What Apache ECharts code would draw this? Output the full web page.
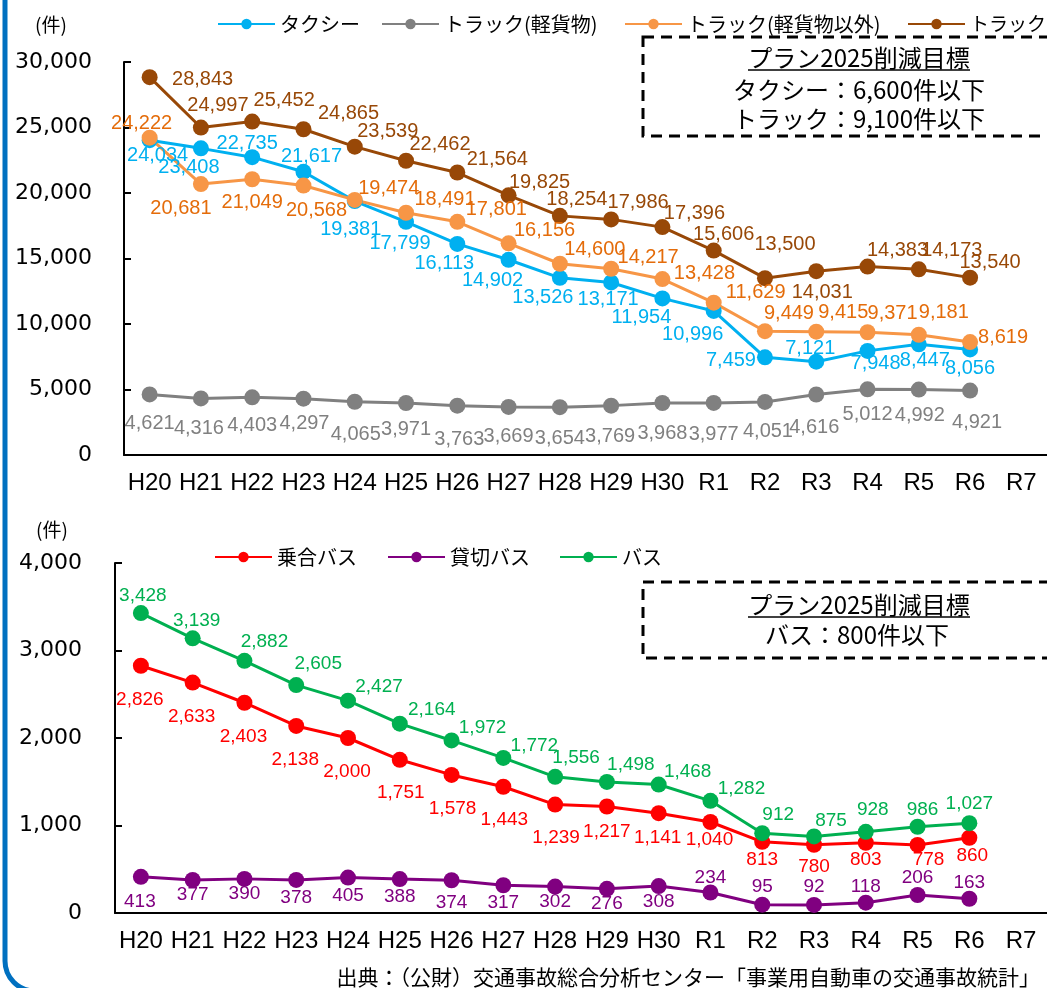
<!DOCTYPE html>
<html>
<head>
<meta charset="utf-8">
<script src="https://cdn.jsdelivr.net/npm/echarts@6/dist/echarts.min.js"></script>
<style>
html,body{margin:0;padding:0;background:#fff;}
#c{width:1047px;height:988px;}
</style>
</head>
<body>
<div id="c"></div>
<script>
// ---- data ----
const categories = ['H20','H21','H22','H23','H24','H25','H26','H27','H28','H29','H30','R1','R2','R3','R4','R5','R6','R7'];
const taxi       = [24034,23408,22735,21617,19381,17799,16113,14902,13526,13171,11954,10996,7459,7121,7948,8447,8056];
const truckLight = [4621,4316,4403,4297,4065,3971,3763,3669,3654,3769,3968,3977,4051,4616,5012,4992,4921];
const truckOther = [24222,20681,21049,20568,19474,18491,17801,16156,14600,14217,13428,11629,9449,9415,9371,9181,8619];
const truckAll   = [28843,24997,25452,24865,23539,22462,21564,19825,18254,17986,17396,15606,13500,14031,14383,14173,13540];
const busRoute   = [2826,2633,2403,2138,2000,1751,1578,1443,1239,1217,1141,1040,813,780,803,778,860];
const busCharter = [413,377,390,378,405,388,374,317,302,276,308,234,95,92,118,206,163];
const busAll     = [3428,3139,2882,2605,2427,2164,1972,1772,1556,1498,1468,1282,912,875,928,986,1027];

// ---- label offsets (style) ----
const taxiOff = [[8,15],[-12,19],[-5,-14],[8,-15],[-4,28],[-6,22],[-13,20],[-16,21],[-17,20],[-3,17],[-21,19],[-21,24],[-34,3],[-6,-13],[8,13],[6,16],[0,19]];
const grayOff = [[0,29],[-2,30],[0,28],[1,25],[1,33],[0,27],[2,34],[0,30],[0,31],[-1,31],[0,30],[0,32],[3,30],[-2,33],[0,25],[1,26],[7,32]];
const orangeOff = [[-8,-14],[-20,24],[0,23],[13,25],[34,-11],[39,-13],[39,-12],[36,-13],[35,-14],[37,-11],[42,-6],[42,-10],[24,-18],[27,-19],[25,-19],[25,-22],[33,-5]];
const brownOff = [[53,2],[17,-22],[32,-21],[45,-16],[33,-15],[34,-16],[40,-13],[31,-13],[17,-16],[27,-17],[32,-14],[10,-16],[20,-34],[6,21],[30,-16],[33,-19],[20,-15]];
const greenOff = [[2,-17],[4,-18],[20,-19],[22,-21],[31,-14],[32,-14],[31,-13],[31,-12],[21,-19],[24,-17],[29,-13],[31,-12],[16,-18],[17,-16],[7,-22],[5,-17],[0,-19]];
const redOff = [[-1,34],[-1,34],[-1,34],[-1,34],[-1,34],[1,33],[1,34],[1,33],[1,33],[0,25],[-1,25],[-1,18],[0,18],[0,22],[0,17],[11,15],[3,18]];
const purpleOff = [[-1,25],[0,15],[0,15],[0,18],[0,18],[0,18],[0,22],[0,18],[0,15],[0,15],[0,16],[0,-15],[0,-18],[0,-18],[0,-16],[0,-17],[0,-16]];

const JP = '"Noto Sans CJK JP", sans-serif';
const LAT = '"Liberation Sans", Arial, sans-serif';
const fmt = v => Number(v).toLocaleString('en-US');

function mk(name, vals, offs, color, labelColor, gi, fs) {
  return {
    name, type: 'line', xAxisIndex: gi, yAxisIndex: gi,
    symbol: 'circle', symbolSize: 16,
    lineStyle: { color, width: 3 },
    itemStyle: { color },
    label: { show: true, position: 'inside', formatter: p => fmt(p.value),
             color: labelColor, fontSize: fs, fontFamily: LAT },
    data: vals.map((v, i) => ({ value: v, label: { offset: offs[i] } })),
    animation: false
  };
}

function xAx(gi) {
  return {
    type: 'category', gridIndex: gi, data: categories, boundaryGap: true,
    axisLine: { lineStyle: { color: '#000', width: 2 } },
    axisTick: { inside: true, length: 7, lineStyle: { color: '#000', width: 2 } },
    axisLabel: { color: '#000', fontSize: 24, fontFamily: LAT, margin: 16, interval: 0 },
    splitLine: { show: false }
  };
}
function yAx(gi, max, interval, margin) {
  return {
    type: 'value', gridIndex: gi, min: 0, max, interval,
    axisLine: { show: true, lineStyle: { color: '#000', width: 2 } },
    axisTick: { show: true, inside: true, length: 7, lineStyle: { color: '#000', width: 2 } },
    axisLabel: { color: '#000', fontSize: 22, fontFamily: '"DejaVu Sans", sans-serif', margin, formatter: fmt },
    splitLine: { show: false }
  };
}
function lg(name, left, top, fs) {
  return {
    data: [name], left, top, itemWidth: 57, itemHeight: 13, itemGap: 0,
    textStyle: { fontSize: fs || 20, fontFamily: JP, color: '#000', lineHeight: 22 },
    selectedMode: false
  };
}

const chart = echarts.init(document.getElementById('c'), null, { renderer: 'canvas' });
chart.setOption({
  backgroundColor: '#fff',
  animation: false,
  grid: [
    { left: 124, top: 62, right: -8, bottom: 533, containLabel: false },
    { left: 115, top: 563, right: -2, bottom: 75, containLabel: false }
  ],
  xAxis: [xAx(0), xAx(1)],
  yAxis: [yAx(0, 30000, 5000, 32), yAx(1, 4000, 1000, 33)],
  legend: [
    lg('タクシー', 212, 8), lg('トラック(軽貨物)', 376, 8),
    lg('トラック(軽貨物以外)', 619, 8), lg('トラック', 902, 8, 19),
    lg('乗合バス', 209, 541), lg('貸切バス', 382, 541), lg('バス', 554, 541)
  ],
  series: [
    mk('タクシー', taxi, taxiOff, '#00B0F0', '#00B0F0', 0, 20),
    mk('トラック(軽貨物)', truckLight, grayOff, '#808080', '#808080', 0, 20),
    mk('トラック(軽貨物以外)', truckOther, orangeOff, '#F79646', '#E46C0A', 0, 20),
    mk('トラック', truckAll, brownOff, '#984807', '#984807', 0, 20),
    mk('乗合バス', busRoute, redOff, '#FF0000', '#FF0000', 1, 19),
    mk('貸切バス', busCharter, purpleOff, '#800080', '#800080', 1, 19),
    mk('バス', busAll, greenOff, '#00B050', '#00B050', 1, 19)
  ],
  graphic: [
    { type: 'rect', silent: true, z: -1, shape: { x: 5, y: -40, width: 1100, height: 1031, r: 30 },
      style: { fill: 'none', stroke: '#0070C0', lineWidth: 5 } },
    { type: 'text', x: 51, y: 25, style: { text: '(件)', fontSize: 19, fontFamily: JP, fill: '#000', align: 'center', verticalAlign: 'middle' } },
    { type: 'text', x: 52, y: 530, style: { text: '(件)', fontSize: 19, fontFamily: JP, fill: '#000', align: 'center', verticalAlign: 'middle' } },
    // top target box
    { type: 'rect', shape: { x: 643, y: 37, width: 500, height: 99 },
      style: { fill: '#fff', stroke: '#000', lineWidth: 3, lineDash: [11, 7] }, z: 10 },
    { type: 'text', x: 859, y: 58, z: 11, style: { text: 'プラン2025削減目標', fontSize: 24, fontFamily: JP, fill: '#000', align: 'center', verticalAlign: 'middle' } },
    { type: 'line', z: 11, shape: { x1: 748, y1: 70, x2: 970, y2: 70 }, style: { stroke: '#000', lineWidth: 1.5 } },
    { type: 'text', x: 733, y: 90, z: 11, style: { text: 'タクシー：6,600件以下', fontSize: 24, fontFamily: JP, fill: '#000', align: 'left', verticalAlign: 'middle' } },
    { type: 'text', x: 733, y: 119, z: 11, style: { text: 'トラック：9,100件以下', fontSize: 24, fontFamily: JP, fill: '#000', align: 'left', verticalAlign: 'middle' } },
    // bottom target box
    { type: 'rect', shape: { x: 643, y: 582, width: 500, height: 76 },
      style: { fill: '#fff', stroke: '#000', lineWidth: 3, lineDash: [11, 7] }, z: 10 },
    { type: 'text', x: 859, y: 605, z: 11, style: { text: 'プラン2025削減目標', fontSize: 24, fontFamily: JP, fill: '#000', align: 'center', verticalAlign: 'middle' } },
    { type: 'line', z: 11, shape: { x1: 748, y1: 617, x2: 970, y2: 617 }, style: { stroke: '#000', lineWidth: 1.5 } },
    { type: 'text', x: 857, y: 635, z: 11, style: { text: 'バス：800件以下', fontSize: 24, fontFamily: JP, fill: '#000', align: 'center', verticalAlign: 'middle' } },
    // source
    { type: 'text', x: 1040, y: 977, style: { text: '出典：（公財）交通事故総合分析センター「事業用自動車の交通事故統計」', fontSize: 21, fontFamily: JP, fill: '#000', align: 'right', verticalAlign: 'middle' } }
  ]
});
</script>
</body>
</html>
